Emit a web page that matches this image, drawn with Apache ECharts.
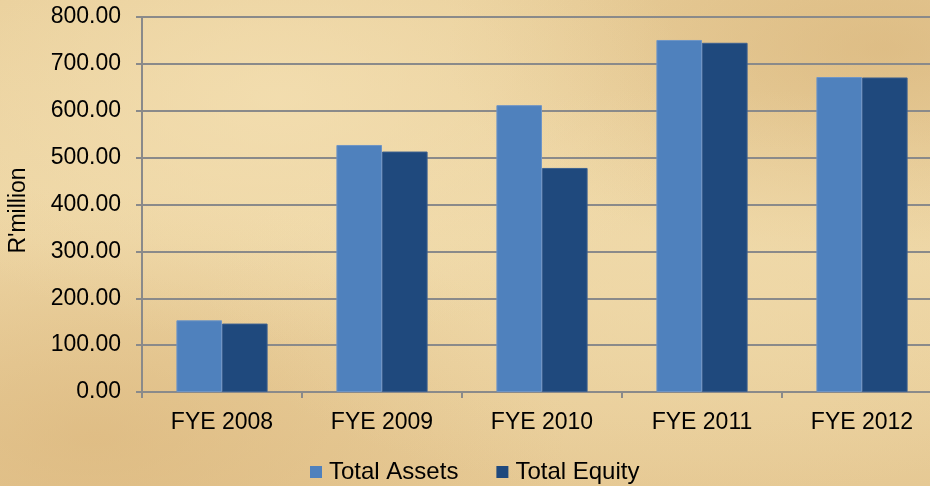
<!DOCTYPE html>
<html>
<head>
<meta charset="utf-8">
<script src="https://cdn.jsdelivr.net/npm/echarts@6/dist/echarts.min.js"></script>
<style>
  html, body { margin: 0; padding: 0; }
  body {
    width: 930px; height: 486px; overflow: hidden;
    background:
      radial-gradient(ellipse at 30% 20%, rgba(245,225,180,0.7), rgba(245,225,180,0) 45%),
      radial-gradient(ellipse at 75% 60%, rgba(240,218,170,0.6), rgba(240,218,170,0) 50%),
      radial-gradient(ellipse at 95% 10%, rgba(210,170,110,0.5), rgba(210,170,110,0) 35%),
      radial-gradient(ellipse at 10% 90%, rgba(215,175,115,0.5), rgba(215,175,115,0) 40%),
      linear-gradient(180deg, #e9cf9b 0%, #eed7a6 50%, #e6c994 100%);
  }
  #chart { width: 930px; height: 486px; }
</style>
</head>
<body>
<div id="chart"></div>
<script>
const categories = ['FYE 2008', 'FYE 2009', 'FYE 2010', 'FYE 2011', 'FYE 2012'];
const totalAssets = [153, 527, 612, 751, 672];
const totalEquity = [146, 513, 478, 745, 671];

const chart = echarts.init(document.getElementById('chart'));
const font = 'Liberation Sans, Arial, sans-serif';

chart.setOption({
  backgroundColor: 'transparent',
  animation: false,
  textStyle: { fontFamily: font },
  grid: { left: 142, right: -12, top: 17, bottom: 94, containLabel: false, outerBoundsMode: 'none' },
  legend: {
    bottom: -3,
    left: 305,
    itemWidth: 12,
    itemHeight: 12,
    itemGap: 38,
    icon: 'rect',
    itemStyle: { borderWidth: 0 },
    textStyle: { fontSize: 24, color: '#000', fontFamily: font, padding: [0, 0, 0, 2] },
    data: ['Total Assets', 'Total Equity']
  },
  xAxis: {
    type: 'category',
    data: categories,
    axisLine: { lineStyle: { color: '#8a8a8a', width: 2 } },
    axisTick: { show: true, length: 6, lineStyle: { color: '#8a8a8a', width: 2 } },
    axisLabel: { fontSize: 23, color: '#000', margin: 19, fontFamily: font }
  },
  yAxis: {
    type: 'value',
    min: 0,
    max: 800,
    interval: 100,
    name: "R'million",
    nameLocation: 'middle',
    nameRotate: 90,
    nameGap: 112,
    nameTextStyle: { fontSize: 23, color: '#000', fontFamily: font, padding: [0, 12, 0, 0] },
    axisLine: { show: true, lineStyle: { color: '#8a8a8a', width: 2 } },
    axisTick: { show: true, length: 6, lineStyle: { color: '#8a8a8a', width: 2 } },
    splitLine: { lineStyle: { color: '#8a8a8a', width: 2 } },
    axisLabel: {
      fontSize: 23, color: '#000', margin: 21, fontFamily: font,
      formatter: v => v.toFixed(2)
    }
  },
  series: [
    {
      name: 'Total Assets',
      type: 'bar',
      data: totalAssets,
      barGap: '0%',
      barCategoryGap: '43%',
      itemStyle: { color: '#4f81bd', borderColor: '#6f95c6', borderWidth: 1 }
    },
    {
      name: 'Total Equity',
      type: 'bar',
      data: totalEquity,
      itemStyle: { color: '#1f497d', borderColor: '#3d6190', borderWidth: 1 }
    }
  ]
});
</script>
</body>
</html>
